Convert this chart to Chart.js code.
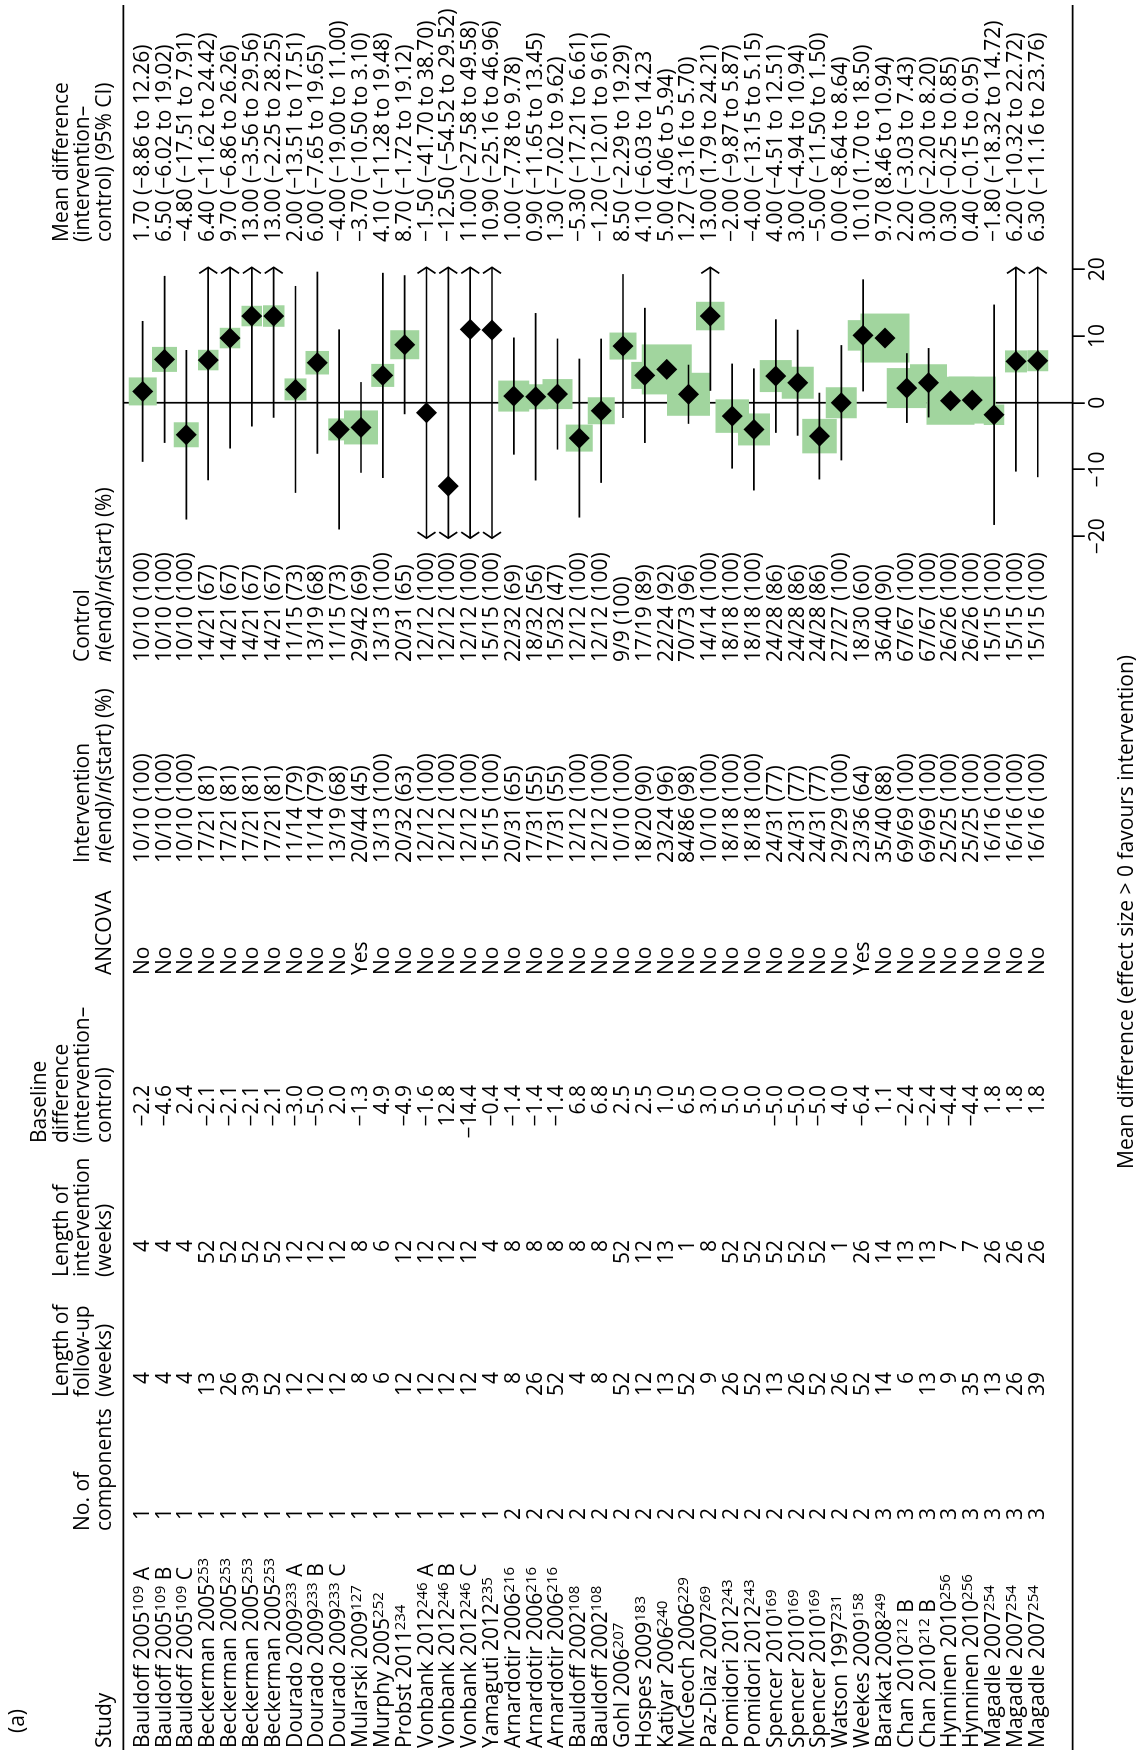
<!DOCTYPE html>
<html><head><meta charset="utf-8">
<script src="https://cdn.jsdelivr.net/npm/chart.js@4/dist/chart.umd.min.js"></script>
<style>
html,body{margin:0;padding:0;background:#fff;overflow:hidden;width:1140px;height:1753px;}
#wrap{position:absolute;left:0;top:0;width:1753px;height:1140px;transform-origin:0 0;transform:translate(0px,1753px) rotate(-90deg);}
canvas{display:block;}
</style></head><body>
<div id="wrap"><canvas id="c" width="1753" height="1140"></canvas></div>
<script>
// ---------- DATA ----------
const studyNames = ["Bauldoff 2005","Bauldoff 2005","Bauldoff 2005","Beckerman 2005","Beckerman 2005","Beckerman 2005","Beckerman 2005","Dourado 2009","Dourado 2009","Dourado 2009","Mularski 2009","Murphy 2005","Probst 2011","Vonbank 2012","Vonbank 2012","Vonbank 2012","Yamaguti 2012","Arnardotir 2006","Arnardotir 2006","Arnardotir 2006","Bauldoff 2002","Bauldoff 2002","Gohl 2006","Hospes 2009","Katiyar 2006","McGeoch 2006","Paz-Diaz 2007","Pomidori 2012","Pomidori 2012","Spencer 2010","Spencer 2010","Spencer 2010","Watson 1997","Weekes 2009","Barakat 2008","Chan 2010","Chan 2010","Hynninen 2010","Hynninen 2010","Magadle 2007","Magadle 2007","Magadle 2007"];
const studyRefs = ["109","109","109","253","253","253","253","233","233","233","127","252","234","246","246","246","235","216","216","216","108","108","207","183","240","229","269","243","243","169","169","169","231","158","249","212","212","256","256","254","254","254"];
const studySuffix = ["A","B","C","","","","","A","B","C","","","","A","B","C","","","","","","","","","","","","","","","","","","","","B","B","","","","",""];
const components = [1,1,1,1,1,1,1,1,1,1,1,1,1,1,1,1,1,2,2,2,2,2,2,2,2,2,2,2,2,2,2,2,2,2,3,3,3,3,3,3,3,3];
const followUpWeeks = [4,4,4,13,26,39,52,12,12,12,8,6,12,12,12,12,4,8,26,52,4,8,52,12,13,52,9,26,52,13,26,52,26,52,14,6,13,9,35,13,26,39];
const interventionWeeks = [4,4,4,52,52,52,52,12,12,12,8,6,12,12,12,12,4,8,8,8,8,8,52,12,13,1,8,52,52,52,52,52,1,26,14,13,13,7,7,26,26,26];
const baselineDiff = ["\u22122.2","\u22124.6","2.4","\u22122.1","\u22122.1","\u22122.1","\u22122.1","\u22123.0","\u22125.0","2.0","\u22121.3","4.9","\u22124.9","\u22121.6","12.8","\u221214.4","\u22120.4","\u22121.4","\u22121.4","\u22121.4","6.8","6.8","2.5","2.5","1.0","6.5","3.0","5.0","5.0","\u22125.0","\u22125.0","\u22125.0","4.0","\u22126.4","1.1","\u22122.4","\u22122.4","\u22124.4","\u22124.4","1.8","1.8","1.8"];
const ancova = ["No","No","No","No","No","No","No","No","No","No","Yes","No","No","No","No","No","No","No","No","No","No","No","No","No","No","No","No","No","No","No","No","No","No","Yes","No","No","No","No","No","No","No","No"];
const interventionN = ["10/10 (100)","10/10 (100)","10/10 (100)","17/21 (81)","17/21 (81)","17/21 (81)","17/21 (81)","11/14 (79)","11/14 (79)","13/19 (68)","20/44 (45)","13/13 (100)","20/32 (63)","12/12 (100)","12/12 (100)","12/12 (100)","15/15 (100)","20/31 (65)","17/31 (55)","17/31 (55)","12/12 (100)","12/12 (100)","10/10 (100)","18/20 (90)","23/24 (96)","84/86 (98)","10/10 (100)","18/18 (100)","18/18 (100)","24/31 (77)","24/31 (77)","24/31 (77)","29/29 (100)","23/36 (64)","35/40 (88)","69/69 (100)","69/69 (100)","25/25 (100)","25/25 (100)","16/16 (100)","16/16 (100)","16/16 (100)"];
const controlN = ["10/10 (100)","10/10 (100)","10/10 (100)","14/21 (67)","14/21 (67)","14/21 (67)","14/21 (67)","11/15 (73)","13/19 (68)","11/15 (73)","29/42 (69)","13/13 (100)","20/31 (65)","12/12 (100)","12/12 (100)","12/12 (100)","15/15 (100)","22/32 (69)","18/32 (56)","15/32 (47)","12/12 (100)","12/12 (100)","9/9 (100)","17/19 (89)","22/24 (92)","70/73 (96)","14/14 (100)","18/18 (100)","18/18 (100)","24/28 (86)","24/28 (86)","24/28 (86)","27/27 (100)","18/30 (60)","36/40 (90)","67/67 (100)","67/67 (100)","26/26 (100)","26/26 (100)","15/15 (100)","15/15 (100)","15/15 (100)"];
const meanDiff = [1.70,6.50,-4.80,6.40,9.70,13.00,13.00,2.00,6.00,-4.00,-3.70,4.10,8.70,-1.50,-12.50,11.00,10.90,1.00,0.90,1.30,-5.30,-1.20,8.50,4.10,5.00,1.27,13.00,-2.00,-4.00,4.00,3.00,-5.00,0.00,10.10,9.70,2.20,3.00,0.30,0.40,-1.80,6.20,6.30];
const ciLow = [-8.86,-6.02,-17.51,-11.62,-6.86,-3.56,-2.25,-13.51,-7.65,-19.00,-10.50,-11.28,-1.72,-41.70,-54.52,-27.58,-25.16,-7.78,-11.65,-7.02,-17.21,-12.01,-2.29,-6.03,4.06,-3.16,1.79,-9.87,-13.15,-4.51,-4.94,-11.50,-8.64,1.70,8.46,-3.03,-2.20,-0.25,-0.15,-18.32,-10.32,-11.16];
const ciHigh = [12.26,19.02,7.91,24.42,26.26,29.56,28.25,17.51,19.65,11.00,3.10,19.48,19.12,38.70,29.52,49.58,46.96,9.78,13.45,9.62,6.61,9.61,19.29,14.23,5.94,5.70,24.21,5.87,5.15,12.51,10.94,1.50,8.64,18.50,10.94,7.43,8.20,0.85,0.95,14.72,22.72,23.76];
const effectLabels = ["1.70 (\u22128.86 to 12.26)","6.50 (\u22126.02 to 19.02)","\u22124.80 (\u221217.51 to 7.91)","6.40 (\u221211.62 to 24.42)","9.70 (\u22126.86 to 26.26)","13.00 (\u22123.56 to 29.56)","13.00 (\u22122.25 to 28.25)","2.00 (\u221213.51 to 17.51)","6.00 (\u22127.65 to 19.65)","\u22124.00 (\u221219.00 to 11.00)","\u22123.70 (\u221210.50 to 3.10)","4.10 (\u221211.28 to 19.48)","8.70 (\u22121.72 to 19.12)","\u22121.50 (\u221241.70 to 38.70)","\u221212.50 (\u221254.52 to 29.52)","11.00 (\u221227.58 to 49.58)","10.90 (\u221225.16 to 46.96)","1.00 (\u22127.78 to 9.78)","0.90 (\u221211.65 to 13.45)","1.30 (\u22127.02 to 9.62)","\u22125.30 (\u221217.21 to 6.61)","\u22121.20 (\u221212.01 to 9.61)","8.50 (\u22122.29 to 19.29)","4.10 (\u22126.03 to 14.23","5.00 (4.06 to 5.94)","1.27 (\u22123.16 to 5.70)","13.00 (1.79 to 24.21)","\u22122.00 (\u22129.87 to 5.87)","\u22124.00 (\u221213.15 to 5.15)","4.00 (\u22124.51 to 12.51)","3.00 (\u22124.94 to 10.94)","\u22125.00 (\u221211.50 to 1.50)","0.00 (\u22128.64 to 8.64)","10.10 (1.70 to 18.50)","9.70 (8.46 to 10.94)","2.20 (\u22123.03 to 7.43)","3.00 (\u22122.20 to 8.20)","0.30 (\u22120.25 to 0.85)","0.40 (\u22120.15 to 0.95)","\u22121.80 (\u221218.32 to 14.72)","6.20 (\u221210.32 to 22.72)","6.30 (\u221211.16 to 23.76)"];
// study weight, shown as the side of the green square
const weightBox = [28,25,25,20.5,20.5,20.5,21.5,22,23.5,22,34,23,29,5,5,5,5,31,25,30,27,27,27,27,50,43,28.5,33.5,32,32,32,34.5,31,30.5,49,40,37,48,47,20.5,22,21];
const axisTicks = [-20,-10,0,10,20];
const axisTitle = "Mean difference (effect size > 0 favours intervention)";

// ---------- STYLE / LAYOUT ----------
const FAMILY = '"Open Sans", "Noto Sans", sans-serif';
const FS = 21;
const GREEN = 'rgb(161,213,158)';
const CLIP = 20.3;
const LW = 1.7;
const HEAD_BASE = 111, HEAD_STEP = 21.7;
const nRows = studyNames.length;
const rowIdx = studyNames.map((_, i) => i);

const columns = [
  {head:["Study"], hx:5, dx:5, align:'left', kind:'study'},
  {head:["No. of","components"], hx:222, dx:245, align:'right', vals:components},
  {head:["Length of","follow-up","(weeks)"], hx:356, dx:381, align:'right', vals:followUpWeeks},
  {head:["Length of","intervention","(weeks)"], hx:476, dx:513, align:'right', vals:interventionWeeks},
  {head:["Baseline","difference","(intervention\u2013","control)"], hx:610, dx:668, align:'right', vals:baselineDiff},
  {head:["ANCOVA"], hx:778, dx:778, align:'left', vals:ancova},
  {head:["Intervention","#n"], hx:890, dx:890, align:'left', vals:interventionN},
  {head:["Control","#n"], hx:1091, dx:1091, align:'left', vals:controlN},
  {head:["Mean difference","(intervention\u2013","control) (95% CI)"], hx:1511, dx:1511, align:'left', vals:effectLabels}
];

function runs(ctx, parts, x, y) {
  let cx = x;
  for (const p of parts) {
    ctx.font = (p.italic ? 'italic ' : '') + (p.size || FS) + 'px ' + FAMILY;
    ctx.fillText(p.t, cx, y + (p.dy || 0));
    cx += ctx.measureText(p.t).width;
  }
}

const tablePlugin = {
  id: 'forestTable',
  beforeDatasetsDraw(chart) {
    const {ctx, chartArea: ca, scales: {x}} = chart;
    ctx.save();
    ctx.strokeStyle = '#000';
    ctx.lineWidth = LW;
    ctx.beginPath();
    const x0 = x.getPixelForValue(0);
    ctx.moveTo(x0, ca.top); ctx.lineTo(x0, ca.bottom);
    ctx.moveTo(3, ca.top); ctx.lineTo(1748, ca.top);
    ctx.moveTo(3, ca.bottom); ctx.lineTo(1748, ca.bottom);
    ctx.stroke();
    ctx.restore();
  },
  afterDatasetsDraw(chart) {
    const {ctx, chartArea: ca, scales: {x, y}} = chart;
    ctx.save();
    // arrowheads for clipped intervals
    ctx.strokeStyle = '#000';
    ctx.lineWidth = LW;
    for (let i = 0; i < nRows; i++) {
      const py = y.getPixelForValue(i);
      if (ciHigh[i] > CLIP) {
        const px = x.getPixelForValue(CLIP);
        ctx.beginPath(); ctx.moveTo(px - 6, py - 9); ctx.lineTo(px, py); ctx.lineTo(px - 6, py + 9); ctx.stroke();
      }
      if (ciLow[i] < -CLIP) {
        const px = x.getPixelForValue(-CLIP);
        ctx.beginPath(); ctx.moveTo(px + 6, py - 9); ctx.lineTo(px, py); ctx.lineTo(px + 6, py + 9); ctx.stroke();
      }
    }
    // table text
    ctx.fillStyle = '#000';
    ctx.textBaseline = 'alphabetic';
    for (const col of columns) {
      const nh = col.head.length;
      col.head.forEach((h, k) => {
        const by = HEAD_BASE - (nh - 1 - k) * HEAD_STEP;
        ctx.textAlign = 'left';
        if (h === '#n') {
          runs(ctx, [{t:'n', italic:true},{t:'(end)/'},{t:'n', italic:true},{t:'(start) (%)'}], col.hx, by);
        } else {
          runs(ctx, [{t:h}], col.hx, by);
        }
      });
      for (let i = 0; i < nRows; i++) {
        const by = y.getPixelForValue(i) + 6;
        if (col.kind === 'study') {
          ctx.textAlign = 'left';
          const parts = [{t: studyNames[i]}, {t: studyRefs[i], size: 15, dy: -6}];
          if (studySuffix[i]) parts.push({t: ' ' + studySuffix[i]});
          runs(ctx, parts, col.dx, by);
        } else {
          ctx.textAlign = col.align;
          ctx.font = FS + 'px ' + FAMILY;
          ctx.fillText(String(col.vals[i]), col.dx, by);
        }
      }
    }
    // panel label
    ctx.textAlign = 'left';
    ctx.font = FS + 'px ' + FAMILY;
    ctx.fillText('(a)', 20, 24);
    // axis title
    ctx.textAlign = 'center';
    ctx.fillText(axisTitle, 841, 1133);
    ctx.restore();
  }
};

const ciDatasets = rowIdx.map(i => ({
  type: 'scatter',
  showLine: true,
  data: [{x: Math.max(ciLow[i], -CLIP), y: i}, {x: Math.min(ciHigh[i], CLIP), y: i}],
  borderColor: '#000',
  borderWidth: LW,
  pointRadius: 0,
  order: 1
}));

new Chart(document.getElementById('c'), {
  type: 'scatter',
  plugins: [tablePlugin],
  data: {
    datasets: [
      {
        label: 'Mean difference',
        data: rowIdx.map(i => ({x: meanDiff[i], y: i})),
        pointStyle: 'rectRot',
        pointRadius: 10.5,
        pointHoverRadius: 10.5,
        backgroundColor: '#000',
        borderWidth: 0,
        order: 0
      },
      ...ciDatasets,
      {
        label: 'Weight',
        data: rowIdx.map(i => ({x: meanDiff[i], y: i})),
        pointStyle: 'rect',
        pointRadius: weightBox.map(s => s / Math.SQRT2),
        pointHoverRadius: weightBox.map(s => s / Math.SQRT2),
        backgroundColor: GREEN,
        borderWidth: 0,
        order: 2
      }
    ]
  },
  options: {
    responsive: false,
    devicePixelRatio: 1,
    animation: false,
    events: [],
    layout: {padding: {left: 1183.5, right: 236, top: 123.3, bottom: 27.3}},
    plugins: {legend: {display: false}, tooltip: {enabled: false}},
    scales: {
      x: {
        type: 'linear',
        position: 'bottom',
        min: -25, max: 25,
        afterBuildTicks: s => { s.ticks = axisTicks.map(v => ({value: v})); },
        afterFit: s => { s.height = 40; },
        border: {display: false},
        grid: {drawOnChartArea: false, drawTicks: true, tickLength: 12, tickWidth: LW, tickColor: '#000', color: '#000', lineWidth: LW},
        ticks: {
          color: '#000', padding: 1, maxRotation: 0, autoSkip: false,
          font: {family: FAMILY, size: FS},
          callback: v => v < 0 ? '\u2212' + Math.abs(v) : String(v)
        }
      },
      y: {
        type: 'linear',
        display: false,
        reverse: true,
        min: -0.889, max: 42.6
      }
    }
  }
});
</script>
</body></html>
